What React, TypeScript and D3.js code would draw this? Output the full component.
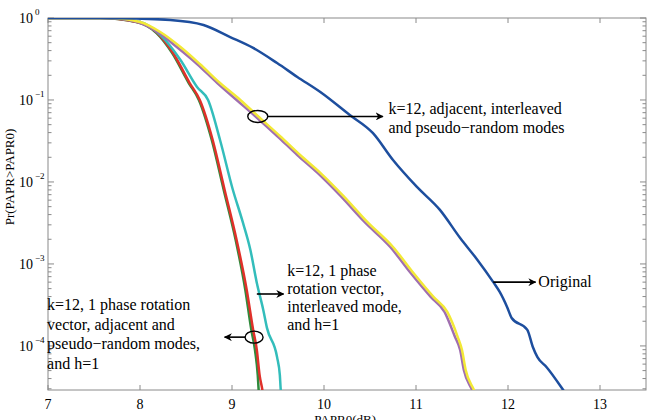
import { useEffect, useRef } from "react";
import * as d3 from "d3";

const WIDTH = 653;
const HEIGHT = 420;

// PAPR0 (dB) and Pr(PAPR>PAPR0)
const originalX = [7.0, 7.57, 7.78, 8.33, 8.69, 8.98, 9.23, 9.49, 9.71, 9.96, 10.28, 10.53, 10.75, 11.01, 11.26, 11.48, 11.66, 11.84, 11.91, 11.99, 12.04, 12.21, 12.27, 12.32, 12.42, 12.6, 12.65];
const originalY = [1, 1, 0.995, 0.946, 0.822, 0.586, 0.431, 0.282, 0.191, 0.125, 0.0656, 0.0396, 0.0185, 0.00869, 0.00456, 0.00207, 0.00115, 6.0e-4, 4.56e-4, 2.99e-4, 2.19e-4, 1.57e-4, 9.7e-5, 7.3e-5, 5.5e-5, 2.9e-5, 2.4e-5];

const adjYellowX = [7.0, 7.67, 8.0, 8.22, 8.44, 8.65, 8.87, 9.09, 9.28, 9.52, 9.74, 9.96, 10.21, 10.47, 10.75, 10.97, 11.19, 11.34, 11.45, 11.5, 11.54, 11.63, 11.66];
const adjYellowY = [1, 1, 0.893, 0.675, 0.443, 0.275, 0.161, 0.1, 0.0638, 0.0364, 0.0213, 0.0129, 0.00675, 0.00325, 0.00161, 7.8e-4, 3.96e-4, 2.6e-4, 1.32e-4, 8.9e-5, 5.1e-5, 2.9e-5, 2.4e-5];

const adjPurpleX = [7.0, 7.65, 7.97, 8.19, 8.4, 8.62, 8.84, 9.05, 9.25, 9.49, 9.71, 9.93, 10.18, 10.44, 10.72, 10.94, 11.16, 11.31, 11.42, 11.48, 11.52, 11.61, 11.64];
const adjPurpleY = [1, 1, 0.893, 0.675, 0.443, 0.275, 0.161, 0.1, 0.0638, 0.0364, 0.0213, 0.0129, 0.00675, 0.00325, 0.00161, 7.8e-4, 3.96e-4, 2.6e-4, 1.32e-4, 8.9e-5, 5.1e-5, 2.9e-5, 2.4e-5];

const interCyanX = [7.0, 7.62, 8.0, 8.22, 8.44, 8.62, 8.74, 8.87, 9.01, 9.11, 9.2, 9.27, 9.34, 9.38, 9.49, 9.52, 9.53, 9.54];
const interCyanY = [1, 1, 0.893, 0.621, 0.307, 0.144, 0.1, 0.0325, 0.00798, 0.00344, 0.00148, 5.86e-4, 2.75e-4, 1.66e-4, 7.3e-5, 4.4e-5, 2.9e-5, 2.4e-5];

const adjRedX = [7.0, 7.57, 7.97, 8.19, 8.36, 8.54, 8.65, 8.79, 8.92, 9.05, 9.16, 9.23, 9.27, 9.3, 9.33, 9.34];
const adjRedY = [1, 1, 0.893, 0.656, 0.374, 0.161, 0.1, 0.0325, 0.00798, 0.00196, 4.82e-4, 1.57e-4, 8.9e-5, 4.4e-5, 2.9e-5, 2.4e-5];

const pseudoGreenX = [7.0, 7.56, 7.96, 8.18, 8.35, 8.53, 8.64, 8.78, 8.91, 9.04, 9.145, 9.21, 9.25, 9.28, 9.29, 9.3];
const pseudoGreenY = [1, 1, 0.893, 0.656, 0.374, 0.161, 0.1, 0.0325, 0.00798, 0.00196, 4.82e-4, 1.57e-4, 8.9e-5, 4.4e-5, 2.9e-5, 2.4e-5];

const xTicks = [7, 8, 9, 10, 11, 12, 13];
const yDecades = [0, -1, -2, -3, -4];

const SERIES = [
  { xs: pseudoGreenX, ys: pseudoGreenY, color: "#2f8a3c" },
  { xs: adjRedX, ys: adjRedY, color: "#e0302a" },
  { xs: interCyanX, ys: interCyanY, color: "#33bdbb" },
  { xs: adjPurpleX, ys: adjPurpleY, color: "#a06fb0" },
  { xs: adjYellowX, ys: adjYellowY, color: "#f3e936" },
  { xs: originalX, ys: originalY, color: "#1d4e9e" },
];

const FONT = "'Liberation Serif', 'Times New Roman', serif";

const App = () => {
  const svgRef = useRef<SVGSVGElement>(null);

  useEffect(() => {
    document.body.style.margin = "0";
    if (!svgRef.current) return;
    const svg = d3.select(svgRef.current);
    svg.selectAll("*").remove();

    const margin = { top: 18, right: 7, bottom: 30, left: 48 };
    const innerW = WIDTH - margin.left - margin.right;
    const innerH = HEIGHT - margin.top - margin.bottom;

    const x = d3.scaleLinear().domain([7, 13.5]).range([0, innerW]);
    const y = d3.scaleLog().domain([2.9e-5, 1]).range([innerH, 0]);

    svg.append("rect").attr("width", WIDTH).attr("height", HEIGHT).attr("fill", "#fff");

    const g = svg.append("g").attr("transform", `translate(${margin.left},${margin.top})`);

    g.append("clipPath").attr("id", "plot-clip")
      .append("rect").attr("width", innerW).attr("height", innerH);

    // frame
    g.append("rect")
      .attr("width", innerW).attr("height", innerH)
      .attr("fill", "none").attr("stroke", "#8a8a8a").attr("stroke-width", 1);

    const tickColor = "#8a8a8a";

    // x ticks, inward top and bottom
    xTicks.forEach((t) => {
      const px = x(t);
      g.append("line").attr("x1", px).attr("x2", px).attr("y1", innerH).attr("y2", innerH - 5)
        .attr("stroke", tickColor);
      g.append("line").attr("x1", px).attr("x2", px).attr("y1", 0).attr("y2", 5)
        .attr("stroke", tickColor);
      g.append("text").attr("x", px).attr("y", innerH + 19)
        .attr("text-anchor", "middle").style("font-family", FONT).style("font-size", "14px")
        .text(String(t));
    });

    // y ticks, log minor ticks on both sides
    y.ticks().forEach((t) => {
      const py = y(t);
      const mant = Math.round(t / Math.pow(10, Math.floor(Math.log10(t) + 1e-9)));
      const len = mant === 1 ? 6 : 3.5;
      g.append("line").attr("x1", 0).attr("x2", len).attr("y1", py).attr("y2", py).attr("stroke", tickColor);
      g.append("line").attr("x1", innerW).attr("x2", innerW - len).attr("y1", py).attr("y2", py).attr("stroke", tickColor);
    });

    yDecades.forEach((e) => {
      const py = y(Math.pow(10, e));
      g.append("text").attr("x", -29).attr("y", py + 5)
        .style("font-family", FONT).style("font-size", "14px").text("10");
      g.append("text").attr("x", -13).attr("y", py - 3)
        .style("font-family", FONT).style("font-size", "9px")
        .text(e === 0 ? "0" : `\u2212${-e}`);
    });

    // curves
    const line = d3.line<[number, number]>()
      .x((d) => x(d[0]))
      .y((d) => y(d[1]))
      .curve(d3.curveMonotoneX);

    const curves = g.append("g").attr("clip-path", "url(#plot-clip)");
    SERIES.forEach((s) => {
      const pts = s.xs.map((v, i) => [v, s.ys[i]] as [number, number]);
      curves.append("path").datum(pts)
        .attr("d", line)
        .attr("fill", "none")
        .attr("stroke", s.color)
        .attr("stroke-width", 2.5)
        .attr("stroke-linejoin", "round");
    });

    // axis labels (x label is cut by the bottom edge, as in the original)
    svg.append("text").attr("x", margin.left + x(10.23)).attr("y", HEIGHT + 4)
      .attr("text-anchor", "middle").style("font-family", FONT).style("font-size", "13px")
      .text("PAPR0(dB)");
    svg.append("text")
      .attr("transform", `translate(14, ${margin.top + y(0.0115)}) rotate(-90)`)
      .attr("text-anchor", "middle").style("font-family", FONT).style("font-size", "13px")
      .text("Pr(PAPR>PAPR0)");

    // annotations
    const defs = svg.append("defs");
    defs.append("marker").attr("id", "arrowhead")
      .attr("viewBox", "0 0 10 10").attr("refX", 9).attr("refY", 5)
      .attr("markerWidth", 5).attr("markerHeight", 5).attr("orient", "auto-start-reverse")
      .attr("markerUnits", "strokeWidth")
      .append("path").attr("d", "M0,0 L10,5 L0,10 L3,5 Z").attr("fill", "#000");

    const ann = g.append("g");
    const arrow = (x1: number, y1: number, x2: number, y2: number) =>
      ann.append("line").attr("x1", x1).attr("y1", y1).attr("x2", x2).attr("y2", y2)
        .attr("stroke", "#000").attr("stroke-width", 1.6).attr("marker-end", "url(#arrowhead)");
    const textBlock = (tx: number, ty: number, lines: string[], lh: number) => {
      const t = ann.append("text").style("font-family", FONT).style("font-size", "16px");
      lines.forEach((l, i) => t.append("tspan").attr("x", tx).attr("y", ty + i * lh).text(l));
    };

    // adjacent / interleaved / pseudo-random
    const e1x = x(9.28), e1y = y(0.063);
    ann.append("ellipse").attr("cx", e1x).attr("cy", e1y).attr("rx", 10).attr("ry", 6)
      .attr("fill", "none").attr("stroke", "#000").attr("stroke-width", 1.4);
    arrow(e1x + 10, e1y, x(10.64), e1y);
    textBlock(x(10.7), e1y - 2, ["k=12, adjacent, interleaved", "and pseudo\u2212random modes"], 19);

    // original
    const oY = y(6.0e-4);
    arrow(x(11.84), oY, x(12.3), oY);
    textBlock(x(12.33), oY + 5, ["Original"], 18);

    // interleaved, h=1
    const iY = y(4.3e-4);
    arrow(x(9.27), iY, x(9.56), iY);
    textBlock(x(9.6), iY - 18, ["k=12, 1 phase", "rotation vector,", "interleaved mode,", "and h=1"], 18);

    // adjacent & pseudo-random, h=1
    const e2x = x(9.24), e2y = y(1.28e-4);
    ann.append("ellipse").attr("cx", e2x).attr("cy", e2y).attr("rx", 9).attr("ry", 6)
      .attr("fill", "none").attr("stroke", "#000").attr("stroke-width", 1.4);
    arrow(e2x - 9, e2y, x(8.92), e2y);
    textBlock(x(6.99), e2y - 27, ["k=12, 1 phase rotation", "vector, adjacent and", "pseudo\u2212random modes,", "and h=1"], 19.5);
  }, []);

  return <svg ref={svgRef} width={WIDTH} height={HEIGHT} style={{ display: "block" }} />;
};

export default App;
